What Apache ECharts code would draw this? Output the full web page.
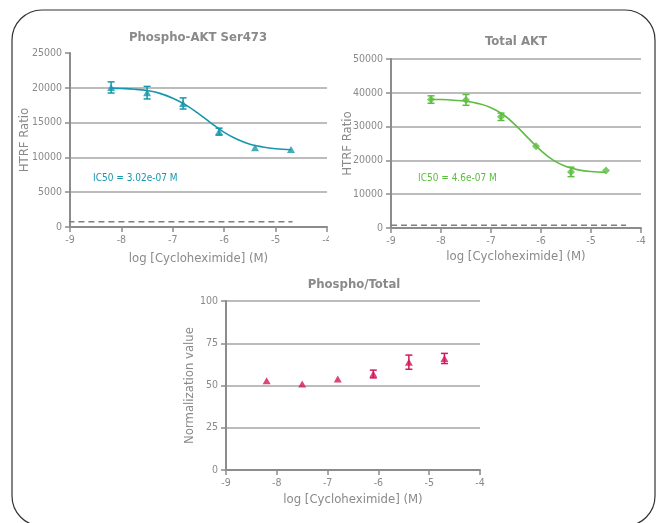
<!DOCTYPE html>
<html lang="en">
<head>
    <meta charset="UTF-8">
    <title>Cycloheximide AKT</title>
    <script src="https://cdn.jsdelivr.net/npm/echarts@6/dist/echarts.min.js"></script>
    <style>
        html, body { margin: 0; padding: 0; background: #fff; }
        #chart { width: 656px; height: 523px; }
    </style>
</head>
<body>
    <div id="chart"></div>
    <script>
        // log [Cycloheximide] (M) doses
        var doses = [-8.2, -7.5, -6.8, -6.1, -5.4, -4.7];
        var xTicks = [-9, -4];

        // Phospho-AKT Ser473
        var phosphoMean = [20050, 19300, 17750, 13700, 11400, 11150];
        var phosphoSd = [800, 900, 800, 500, 150, 100];
        var phosphoFitX = [-8.2, -8.0, -7.75, -7.5, -7.25, -7.0, -6.75, -6.5, -6.25, -6.0, -5.75, -5.5, -5.25, -5.0, -4.7];
        var phosphoFitY = [19950, 19900, 19800, 19600, 19200, 18500, 17550, 16300, 14900, 13600, 12600, 11900, 11500, 11250, 11100];
        var phosphoBaseX = [-9.42, -4.67];
        var phosphoBaseY = [760, 760];

        // Total AKT
        var totalMean = [38000, 37900, 32900, 24200, 16600, 17000];
        var totalSd = [1100, 1600, 1100, 300, 1400, 300];
        var totalFitX = [-8.2, -8.0, -7.75, -7.5, -7.25, -7.0, -6.75, -6.5, -6.25, -6.0, -5.75, -5.5, -5.25, -5.0, -4.7];
        var totalFitY = [38100, 38000, 37800, 37500, 36800, 35600, 33500, 30300, 26500, 22900, 20000, 18200, 17200, 16700, 16450];
        var totalBaseX = [-9, -4.3];
        var totalBaseY = [850, 850];

        // Phospho/Total
        var ratioMean = [52.8, 50.9, 53.8, 56.8, 63.8, 66.0];
        var ratioSd = [0.4, 0.3, 0.4, 2.3, 4.2, 3.0];

        var TEAL = '#1797ad', GREEN = '#5cbd3f', RED = '#d3175a';
        var GREY = '#8a8a8a';
        var FONT = '"Liberation Sans Narrow", "DejaVu Sans Condensed", sans-serif';

        function zip(a, b) {
            return a.map(function(v, i) { return [v, b[i]]; });
        }
        function zip3(a, b, c) {
            return a.map(function(v, i) { return [v, b[i], c[i]]; });
        }

        // bars shorter than the marker are hidden behind it, like in the original plot
        function errorBar(params, api) {
            var x = api.value(0), y = api.value(1), e = api.value(2);
            var top = api.coord([x, y + e]);
            var bot = api.coord([x, y - e]);
            if (Math.abs(bot[1] - top[1]) < 6) {
                return;
            }
            var w = 3.5;
            var st = { stroke: api.visual('color'), lineWidth: 1.5 };
            return {
                type: 'group',
                children: [
                    { type: 'line', shape: { x1: top[0], y1: top[1], x2: bot[0], y2: bot[1] }, style: st },
                    { type: 'line', shape: { x1: top[0] - w, y1: top[1], x2: top[0] + w, y2: top[1] }, style: st },
                    { type: 'line', shape: { x1: bot[0] - w, y1: bot[1], x2: bot[0] + w, y2: bot[1] }, style: st }
                ]
            };
        }

        function plain(v) {
            return String(v);
        }

        function xAxis(idx, nameGap) {
            return {
                gridIndex: idx,
                type: 'value',
                min: xTicks[0],
                max: xTicks[1],
                interval: 1,
                name: 'log [Cycloheximide] (M)',
                nameLocation: 'middle',
                nameGap: nameGap,
                nameMoveOverlap: false,
                nameTextStyle: { color: GREY, fontSize: 13, fontFamily: FONT },
                axisLine: { onZero: false, lineStyle: { color: '#8c8c8c', width: 2 } },
                axisTick: { length: 5, lineStyle: { color: '#8c8c8c', width: 1.5 } },
                axisLabel: { color: GREY, fontSize: 10.5, fontFamily: FONT, margin: 8, formatter: plain },
                splitLine: { show: false }
            };
        }

        function yAxis(idx, max, interval, name, nameGap, showMax) {
            return {
                gridIndex: idx,
                type: 'value',
                min: 0,
                max: max,
                interval: interval,
                name: name,
                nameLocation: 'middle',
                nameGap: nameGap,
                nameMoveOverlap: false,
                nameRotate: 90,
                nameTextStyle: { color: GREY, fontSize: 13, fontFamily: FONT },
                axisLine: { show: true, lineStyle: { color: '#8c8c8c', width: 2 } },
                axisTick: { show: true, length: 5, lineStyle: { color: '#8c8c8c', width: 1.5 } },
                axisLabel: { color: GREY, fontSize: 10.5, fontFamily: FONT, margin: 8, formatter: plain },
                splitLine: { show: true, showMinLine: false, showMaxLine: showMax, lineStyle: { color: '#a6a6a6', width: 1.5 } }
            };
        }

        function titleText(text, cx, y) {
            return {
                type: 'text',
                x: cx,
                y: y,
                style: { text: text, fill: GREY, font: 'bold 13px ' + FONT, align: 'center', verticalAlign: 'middle' }
            };
        }

        var myChart = echarts.init(document.getElementById('chart'));
        var option = {
            animation: false,
            backgroundColor: '#fff',
            grid: [
                { left: 70, top: 53, width: 257, height: 174 },
                { left: 391, top: 59, width: 250, height: 169 },
                { left: 226, top: 301, width: 254, height: 169 }
            ],
            xAxis: [xAxis(0, 25), xAxis(1, 22), xAxis(2, 23)],
            yAxis: [
                yAxis(0, 25000, 5000, 'HTRF Ratio', 39, false),
                yAxis(1, 50000, 10000, 'HTRF Ratio', 37, true),
                yAxis(2, 100, 25, 'Normalization value', 30, true)
            ],
            graphic: [
                {
                    type: 'rect',
                    shape: { x: 12, y: 10, width: 643, height: 516, r: 30 },
                    style: { fill: null, stroke: '#333', lineWidth: 1.2 },
                    z: 10
                },
                {
                    type: 'rect',
                    shape: { x: 329, y: 229, width: 12, height: 20 },
                    style: { fill: '#fff' },
                    z: 5
                },
                titleText('Phospho-AKT Ser473', 198, 38),
                titleText('Total AKT', 516, 42),
                titleText('Phospho/Total', 354, 285),
                {
                    type: 'text', x: 93, y: 178,
                    style: { text: 'IC50 = 3.02e-07 M', fill: TEAL, font: '10px ' + FONT, verticalAlign: 'middle' }
                },
                {
                    type: 'text', x: 418, y: 178,
                    style: { text: 'IC50 = 4.6e-07 M', fill: GREEN, font: '10px ' + FONT, verticalAlign: 'middle' }
                }
            ],
            series: [
                // Phospho-AKT
                {
                    type: 'line', xAxisIndex: 0, yAxisIndex: 0, clip: false,
                    data: zip(phosphoBaseX, phosphoBaseY), symbol: 'none',
                    lineStyle: { color: '#7f7f7f', width: 1.5, type: [6, 4] }
                },
                {
                    type: 'line', xAxisIndex: 0, yAxisIndex: 0,
                    data: zip(phosphoFitX, phosphoFitY), symbol: 'none', smooth: 0.4,
                    lineStyle: { color: TEAL, width: 1.6 }
                },
                {
                    type: 'custom', xAxisIndex: 0, yAxisIndex: 0,
                    data: zip3(doses, phosphoMean, phosphoSd), renderItem: errorBar,
                    itemStyle: { color: TEAL }, z: 3
                },
                {
                    type: 'scatter', xAxisIndex: 0, yAxisIndex: 0,
                    data: zip(doses, phosphoMean), symbol: 'triangle', symbolSize: [8, 7],
                    itemStyle: { color: TEAL }, z: 4
                },
                // Total AKT
                {
                    type: 'line', xAxisIndex: 1, yAxisIndex: 1, clip: false,
                    data: zip(totalBaseX, totalBaseY), symbol: 'none',
                    lineStyle: { color: '#7f7f7f', width: 1.5, type: [6, 4] }
                },
                {
                    type: 'line', xAxisIndex: 1, yAxisIndex: 1,
                    data: zip(totalFitX, totalFitY), symbol: 'none', smooth: 0.4,
                    lineStyle: { color: GREEN, width: 1.6 }
                },
                {
                    type: 'custom', xAxisIndex: 1, yAxisIndex: 1,
                    data: zip3(doses, totalMean, totalSd), renderItem: errorBar,
                    itemStyle: { color: GREEN }, z: 3
                },
                {
                    type: 'scatter', xAxisIndex: 1, yAxisIndex: 1,
                    data: zip(doses, totalMean), symbol: 'diamond', symbolSize: 8,
                    itemStyle: { color: GREEN }, z: 4
                },
                // Phospho/Total
                {
                    type: 'custom', xAxisIndex: 2, yAxisIndex: 2,
                    data: zip3(doses, ratioMean, ratioSd), renderItem: errorBar,
                    itemStyle: { color: RED }, z: 3
                },
                {
                    type: 'scatter', xAxisIndex: 2, yAxisIndex: 2,
                    data: zip(doses, ratioMean), symbol: 'triangle', symbolSize: [8, 7],
                    itemStyle: { color: RED }, z: 4
                }
            ]
        };
        myChart.setOption(option);
    </script>
</body>
</html>
